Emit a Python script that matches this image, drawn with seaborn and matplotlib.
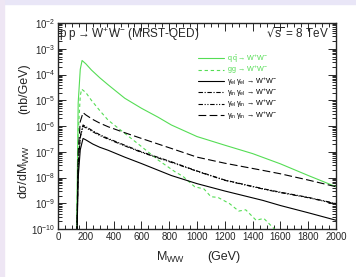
import matplotlib
matplotlib.use("Agg")
import matplotlib.pyplot as plt
import seaborn as sns
from matplotlib.lines import Line2D
from matplotlib.patches import Rectangle
from matplotlib.ticker import MultipleLocator, LogLocator, NullFormatter

# values (nb/GeV vs M_WW in GeV)
m_qq = [130, 145, 160, 173, 200, 240, 300, 360, 480, 600, 720, 815, 1000, 1200, 1400, 1600, 1800, 2000]
xs_qq = [1e-12, 8e-6, 1.6e-4, 3.5e-4, 2.6e-4, 1.5e-4, 7.5e-5, 4e-5, 1.2e-5, 4.9e-6, 2.2e-6, 1.1e-6,
         3.9e-7, 1.8e-7, 8.5e-8, 3.4e-8, 1.2e-8, 4.4e-9]

m_gg = [130, 145, 160, 170, 200, 240, 300, 360, 480, 600, 720, 840, 900, 983, 1050, 1100, 1150,
        1233, 1300, 1350, 1425, 1480, 1557, 1620]
xs_gg = [1e-12, 5e-7, 1.5e-5, 2.7e-5, 2e-5, 1e-5, 4e-6, 1.7e-6, 5.2e-7, 1.6e-7, 4.8e-8, 1.7e-8,
         1.1e-8, 4.4e-9, 3.6e-9, 1.8e-9, 1.7e-9, 9.8e-10, 5e-10, 5.6e-10, 2.2e-10, 2.6e-10, 1e-10, 4e-11]

m_pp = [130, 145, 160, 180, 200, 250, 300, 360, 480, 600, 815, 1000, 1200, 1473, 1600, 1800, 2000]
xs_elel = [1e-12, 1e-8, 1.2e-7, 3.3e-7, 2.9e-7, 2e-7, 1.5e-7, 1.15e-7, 6.2e-8, 3.5e-8, 1.2e-8, 5.8e-9,
           3e-9, 1.3e-9, 8.2e-10, 4.3e-10, 2.2e-10]
xs_inel = [1e-12, 3e-8, 4e-7, 1.1e-6, 9.5e-7, 6.5e-7, 4.6e-7, 3.3e-7, 1.8e-7, 1e-7, 4.1e-8, 1.8e-8,
           8e-9, 3.7e-9, 2.7e-9, 1.7e-9, 9.8e-10]
xs_elin = [1e-12, 2.6e-8, 3.6e-7, 9.8e-7, 8.6e-7, 6e-7, 4.3e-7, 3.1e-7, 1.7e-7, 9.5e-8, 3.9e-8, 1.75e-8,
           7.8e-9, 3.6e-9, 2.6e-9, 1.65e-9, 9.5e-10]
xs_inin = [1e-12, 1e-7, 1.5e-6, 3.3e-6, 2.7e-6, 1.8e-6, 1.3e-6, 9.4e-7, 5.5e-7, 3.3e-7, 1.35e-7, 6.2e-8,
           3.6e-8, 1.9e-8, 1.4e-8, 8e-9, 4.4e-9]

labels = [r"q$\,\bar{q} \rightarrow W^{+}W^{-}$", r"gg$\,\rightarrow W^{+}W^{-}$",
          r"$\gamma_{el}\,\gamma_{el}\,\rightarrow W^{+}W^{-}$", r"$\gamma_{in}\,\gamma_{el}\,\rightarrow W^{+}W^{-}$",
          r"$\gamma_{el}\,\gamma_{in}\,\rightarrow W^{+}W^{-}$", r"$\gamma_{in}\,\gamma_{in}\,\rightarrow W^{+}W^{-}$"]

sns.set_style("ticks")
plt.rcParams['font.family'] = ['Liberation Sans', 'DejaVu Sans']
plt.rcParams['mathtext.default'] = 'regular'

green = '#55DD55'
fig = plt.figure(figsize=(3.56, 2.77), dpi=100)
fig.patches.append(Rectangle((0, 0.985), 1, 0.015, transform=fig.transFigure, color='#E9E6F7', zorder=0))
fig.patches.append(Rectangle((0, 0), 0.01, 1, transform=fig.transFigure, color='#EEE6F4', zorder=0))
ax = fig.add_axes([0.163, 0.173, 0.781, 0.744])

styles = [
    (m_qq, xs_qq, green, '-'),
    (m_gg, xs_gg, green, (0, (3, 2.5))),
    (m_pp, xs_elel, 'black', '-'),
    (m_pp, xs_inel, 'black', (0, (4, 1.5, 1, 1.5))),
    (m_pp, xs_elin, 'black', (0, (4, 1.5, 1, 1.5, 1, 1.5))),
    (m_pp, xs_inin, 'black', (0, (7, 3))),
]
for mx, yv, c, ls in styles:
    sns.lineplot(x=mx, y=yv, ax=ax, color=c, linestyle=ls, linewidth=0.8, sort=False)

ax.set_yscale('log')
ax.set_xlim(0, 2000)
ax.set_ylim(1e-10, 1e-2)
ax.xaxis.set_major_locator(MultipleLocator(200))
ax.xaxis.set_minor_locator(MultipleLocator(50))
ax.yaxis.set_major_locator(LogLocator(base=10, numticks=20))
ax.yaxis.set_minor_locator(LogLocator(base=10, subs=range(2, 10), numticks=20))
ax.yaxis.set_minor_formatter(NullFormatter())
ax.tick_params(which='both', direction='in', top=True, right=True, labelsize=7, width=0.7, pad=2)
ax.tick_params(which='major', length=6)
ax.tick_params(which='minor', length=3)
for s in ax.spines.values():
    s.set_linewidth(1.0)
ax.set_xlabel('')
ax.set_ylabel('')

ax.text(0.005, 0.985, r"p p$\rightarrow W^{+}W^{-}$ (MRST-QED)", transform=ax.transAxes,
        ha='left', va='top', fontsize=8.5)
ax.text(0.975, 0.985, r"$\sqrt{s}$ = 8 TeV", transform=ax.transAxes, ha='right', va='top', fontsize=8.5)

fig.text(0.068, 0.68, "(nb/GeV)", rotation=90, ha='center', va='center', fontsize=9)
fig.text(0.068, 0.38, r"d$\sigma$/d$M_{WW}$", rotation=90, ha='center', va='center', fontsize=9)
fig.text(0.48, 0.072, r"$M_{WW}$", ha='center', va='center', fontsize=9)
fig.text(0.63, 0.072, "(GeV)", ha='center', va='center', fontsize=9)

handles = [Line2D([], [], color=c, linestyle=ls, linewidth=0.8) for _, _, c, ls in styles]
leg = ax.legend(handles, labels, loc='upper left', bbox_to_anchor=(0.49, 0.875), frameon=False,
                fontsize=5.2, handlelength=3.6, handletextpad=0.4, labelspacing=-0.12, borderpad=0)
for t, (_, _, c, _) in zip(leg.get_texts(), styles):
    t.set_color(c)

fig.savefig('out.png', dpi=100)
